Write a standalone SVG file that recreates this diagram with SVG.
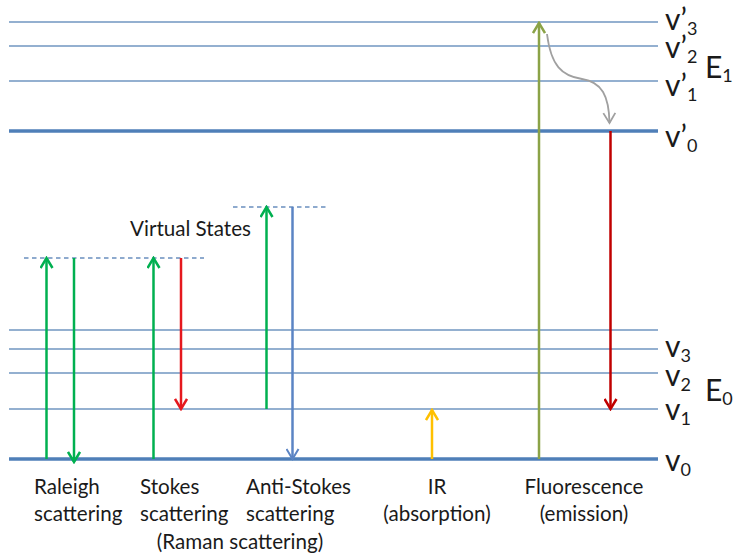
<svg xmlns="http://www.w3.org/2000/svg" width="745" height="553" viewBox="0 0 745 553">
<style>
  .lvl{stroke:#7096C0;stroke-width:1.5;fill:none}
  .lvl0{stroke:#4F7FB8;stroke-width:3.5;fill:none}
  .virt{stroke:#6A8FBE;stroke-width:1.5;stroke-dasharray:4.5 3.5;fill:none}
  .t{font-family:Lato,"Open Sans","Liberation Sans",sans-serif;fill:#1a1a1a}
  .lab{font-size:30px}
  .sub{font-size:18px}
  .cap{font-size:20.6px}
  .arr{fill:none;stroke-width:2.5}
</style>
<defs>
  <marker id="mGreen" viewBox="0 0 14 14" refX="12" refY="7" markerWidth="14" markerHeight="14" markerUnits="userSpaceOnUse" orient="auto"><path d="M2,1 L12,7 L2,13" fill="none" stroke="#00B050" stroke-width="2.5"/></marker>
  <marker id="mRed" viewBox="0 0 14 14" refX="12" refY="7" markerWidth="14" markerHeight="14" markerUnits="userSpaceOnUse" orient="auto"><path d="M2,1 L12,7 L2,13" fill="none" stroke="#E5181E" stroke-width="2.5"/></marker>
  <marker id="mDark" viewBox="0 0 14 14" refX="12" refY="7" markerWidth="14" markerHeight="14" markerUnits="userSpaceOnUse" orient="auto"><path d="M2,1 L12,7 L2,13" fill="none" stroke="#C00000" stroke-width="2.5"/></marker>
  <marker id="mBlue" viewBox="0 0 14 14" refX="12" refY="7" markerWidth="14" markerHeight="14" markerUnits="userSpaceOnUse" orient="auto"><path d="M2,1 L12,7 L2,13" fill="none" stroke="#5B84C4" stroke-width="2"/></marker>
  <marker id="mYellow" viewBox="0 0 14 14" refX="12" refY="7" markerWidth="14" markerHeight="14" markerUnits="userSpaceOnUse" orient="auto"><path d="M2,1 L12,7 L2,13" fill="none" stroke="#FFC000" stroke-width="2.5"/></marker>
  <marker id="mOlive" viewBox="0 0 14 14" refX="12" refY="7" markerWidth="14" markerHeight="14" markerUnits="userSpaceOnUse" orient="auto"><path d="M2,1 L12,7 L2,13" fill="none" stroke="#8BA347" stroke-width="2.5"/></marker>
  <marker id="mGray" viewBox="0 0 14 14" refX="12" refY="7" markerWidth="14" markerHeight="14" markerUnits="userSpaceOnUse" orient="auto"><path d="M2,1 L12,7 L2,13" fill="none" stroke="#A0A0A0" stroke-width="1.8"/></marker>
</defs>
<rect width="745" height="553" fill="#ffffff"/>

<g id="level-v3p"><line class="lvl" x1="9" y1="22" x2="658" y2="22"/><text class="t lab" x="665" y="30">v’<tspan class="sub" dy="5">3</tspan></text></g>
<g id="level-v2p"><line class="lvl" x1="9" y1="46" x2="658" y2="46"/><text class="t lab" x="665" y="58">v’<tspan class="sub" dy="5">2</tspan></text></g>
<g id="level-v1p"><line class="lvl" x1="9" y1="81" x2="658" y2="81"/><text class="t lab" x="665" y="96">v’<tspan class="sub" dy="5">1</tspan></text></g>
<g id="level-v0p"><line class="lvl0" x1="9" y1="131" x2="658" y2="131"/><text class="t lab" x="665" y="147">v’<tspan class="sub" dy="5">0</tspan></text></g>
<g id="label-E1"><text class="t lab" x="705" y="78">E<tspan class="sub" dy="4">1</tspan></text></g>

<g id="level-top0"><line class="lvl" x1="9" y1="330" x2="658" y2="330"/></g>
<g id="level-v3"><line class="lvl" x1="9" y1="349" x2="658" y2="349"/><text class="t lab" x="665" y="357">v<tspan class="sub" dy="5">3</tspan></text></g>
<g id="level-v2"><line class="lvl" x1="9" y1="373" x2="658" y2="373"/><text class="t lab" x="665" y="386">v<tspan class="sub" dy="5">2</tspan></text></g>
<g id="level-v1"><line class="lvl" x1="9" y1="409" x2="658" y2="409"/><text class="t lab" x="665" y="420">v<tspan class="sub" dy="5">1</tspan></text></g>
<g id="level-v0"><line class="lvl0" x1="9" y1="459" x2="658" y2="459"/><text class="t lab" x="665" y="471">v<tspan class="sub" dy="5">0</tspan></text></g>
<g id="label-E0"><text class="t lab" x="705" y="401">E<tspan class="sub" dy="4">0</tspan></text></g>

<g id="virtual-states">
  <line class="virt" x1="24" y1="258" x2="204" y2="258"/>
  <line class="virt" x1="233" y1="207" x2="328" y2="207"/>
  <text class="t cap" x="130" y="236">Virtual States</text>
</g>

<g id="connectors">
  <line class="arr" stroke="#00B050" x1="46.5" y1="459" x2="46.5" y2="258" marker-end="url(#mGreen)"/>
  <line class="arr" stroke="#00B050" x1="74" y1="258" x2="74" y2="462" marker-end="url(#mGreen)"/>
  <line class="arr" stroke="#00B050" x1="153.5" y1="459" x2="153.5" y2="258" marker-end="url(#mGreen)"/>
  <line class="arr" stroke="#E5181E" x1="181" y1="258" x2="181" y2="409" marker-end="url(#mRed)"/>
  <line class="arr" stroke="#00B050" x1="266.5" y1="409" x2="266.5" y2="207" marker-end="url(#mGreen)"/>
  <line class="arr" stroke="#5B84C4" stroke-width="2" x1="292.5" y1="207" x2="292.5" y2="459" marker-end="url(#mBlue)"/>
  <line class="arr" stroke="#FFC000" x1="432" y1="459" x2="432" y2="410" marker-end="url(#mYellow)"/>
  <line class="arr" stroke="#8BA347" x1="539" y1="459" x2="539" y2="23" marker-end="url(#mOlive)"/>
  <line class="arr" stroke="#C00000" x1="610.5" y1="131" x2="610.5" y2="409" marker-end="url(#mDark)"/>
  <path fill="none" stroke="#A0A0A0" stroke-width="1.8" d="M547,34 C551,66 562,76 582,79 C602,82 609,96 609.5,123" marker-end="url(#mGray)"/>
</g>

<g id="captions">
  <text class="t cap" x="34" y="494">Raleigh</text>
  <text class="t cap" x="34" y="521">scattering</text>
  <text class="t cap" x="140" y="494">Stokes</text>
  <text class="t cap" x="140" y="521">scattering</text>
  <text class="t cap" x="246" y="494">Anti-Stokes</text>
  <text class="t cap" x="246" y="521">scattering</text>
  <text class="t cap" x="437" y="494" text-anchor="middle">IR</text>
  <text class="t cap" x="437" y="521" text-anchor="middle">(absorption)</text>
  <text class="t cap" x="584" y="494" text-anchor="middle">Fluorescence</text>
  <text class="t cap" x="584" y="521" text-anchor="middle">(emission)</text>
  <text class="t cap" x="240" y="549" text-anchor="middle">(Raman scattering)</text>
</g>
</svg>
